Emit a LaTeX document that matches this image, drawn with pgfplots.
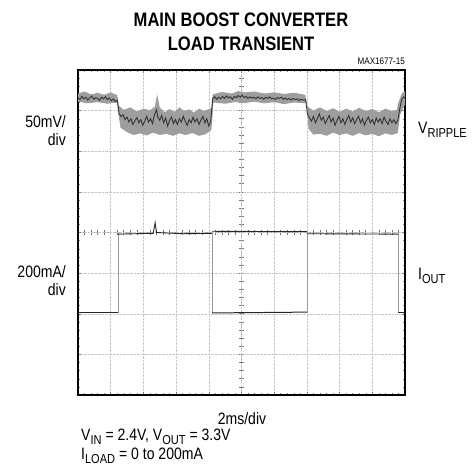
\documentclass[border=0pt]{standalone}
\usepackage{pgfplots}
\pgfplotsset{compat=1.18}
\usepackage{fontspec}
\setmainfont{Liberation Sans}[FakeStretch=0.85]

\newcommand{\lbl}{\fontsize{16.5bp}{18bp}\selectfont}
\newcommand{\sub}[1]{\raisebox{-0.22em}{\fontsize{13bp}{13bp}\selectfont #1}}

\begin{document}
\begin{tikzpicture}
\useasboundingbox (0,0) rectangle (475bp,472bp);

% titles (y measured from the bottom: 472 - pixel row)
\node[font=\fontsize{19.5bp}{22bp}\selectfont\bfseries] at (241bp,452bp) {MAIN BOOST CONVERTER};
\node[font=\fontsize{19.5bp}{22bp}\selectfont\bfseries] at (241bp,428bp) {LOAD TRANSIENT};
\node[font=\fontsize{9.5bp}{10bp}\selectfont, anchor=east, inner sep=0pt] at (405bp,411bp) {MAX1677-15};

\pgfplotsset{scope frame/.style={
    at={(78bp,77bp)}, anchor=south west,
    width=327bp, height=325bp, scale only axis,
    ymin=-4, ymax=4,
    xticklabels={}, yticklabels={},
}}

% centre crosshair with 0.2-division marks
\begin{axis}[
    scope frame,
    xmin=-5, xmax=5,
    axis lines=middle,
    axis line style={-, densely dotted, black!35, line width=0.6pt},
    xtick={-5,-4.8,...,5.05}, ytick={-4,-3.8,...,4.05},
    tick align=center, major tick length=5bp,
    tick style={solid, black!55, line width=0.6pt},
]
\end{axis}

\begin{axis}[
    scope frame,
    xmin=0, xmax=10,
    xtick={0,...,10}, ytick={-4,...,4},
    minor x tick num=4, minor y tick num=4,
    tick align=inside,
    major tick length=3bp, minor tick length=2bp,
    tick style={black!50, line width=0.5pt},
    grid=major,
    major grid style={densely dotted, black!22, line width=0.5pt},
    axis line style={line width=1.8pt},
]
% V ripple: noise envelope
\addplot[fill=black!38, draw=none] coordinates {
 (0,3.42)(0.2,3.47)(0.4,3.40)(0.6,3.44)(0.8,3.39)(1.0,3.45)(1.2,3.38)(1.25,3.12)(1.4,3.02)
 (1.6,3.08)(1.8,2.98)(2.0,3.05)(2.2,3.01)(2.35,3.10)(2.42,3.40)(2.5,3.08)(2.65,2.96)
 (2.8,3.04)(2.95,2.97)(3.1,3.08)(3.25,2.99)(3.4,3.03)(3.55,2.95)(3.7,3.05)(3.85,2.99)
 (4.0,3.04)(4.08,3.06)(4.12,3.40)(4.4,3.46)(4.7,3.42)(4.9,3.48)(5.1,3.45)(5.4,3.47)
 (5.7,3.42)(6.0,3.45)(6.3,3.41)(6.6,3.44)(6.95,3.39)(7.02,3.10)(7.2,3.00)(7.4,3.08)
 (7.6,2.99)(7.8,3.06)(8.0,2.97)(8.2,3.05)(8.4,2.98)(8.6,3.07)(8.8,2.99)(9.0,3.04)
 (9.2,2.96)(9.4,3.05)(9.6,2.99)(9.75,3.02)(9.8,3.20)(9.9,3.42)(10,3.48)
 (10,3.15)(9.85,2.90)(9.78,2.45)(9.6,2.40)(9.4,2.44)(9.2,2.37)(9.0,2.43)(8.8,2.39)
 (8.6,2.45)(8.4,2.38)(8.2,2.44)(8.0,2.40)(7.8,2.46)(7.6,2.38)(7.4,2.43)(7.2,2.41)
 (7.05,2.55)(7.0,3.18)(6.6,3.20)(6.3,3.16)(6.0,3.21)(5.7,3.18)(5.4,3.22)(5.1,3.19)
 (4.8,3.21)(4.5,3.17)(4.14,3.20)(4.08,2.52)(3.9,2.42)(3.7,2.38)(3.5,2.45)(3.3,2.40)
 (3.1,2.44)(2.9,2.38)(2.7,2.43)(2.5,2.40)(2.3,2.46)(2.1,2.39)(1.9,2.44)(1.7,2.40)
 (1.5,2.47)(1.3,2.58)(1.22,3.00)(1.2,3.20)(0.9,3.17)(0.6,3.21)(0.3,3.18)(0,3.22)
} -- cycle;

% V ripple: dark core trace
\addplot[black!80, line width=0.9pt] coordinates {
 (0,3.32)(0.06,3.27)(0.12,3.35)(0.18,3.29)(0.24,3.33)(0.30,3.26)(0.36,3.31)(0.42,3.36)
 (0.48,3.28)(0.54,3.32)(0.60,3.30)(0.66,3.25)(0.72,3.33)(0.78,3.29)(0.84,3.34)(0.90,3.27)
 (0.96,3.31)(1.02,3.24)(1.08,3.29)(1.14,3.22)(1.20,3.26)
 (1.26,2.92)(1.32,2.85)(1.38,2.90)(1.44,2.78)(1.50,2.84)(1.56,2.72)(1.62,2.80)(1.68,2.66)
 (1.74,2.75)(1.80,2.83)(1.86,2.70)(1.92,2.78)(1.98,2.64)(2.04,2.74)(2.10,2.86)(2.16,2.72)
 (2.22,2.80)(2.28,2.68)(2.34,2.90)(2.40,3.02)(2.44,2.85)(2.50,2.76)(2.56,2.88)(2.62,2.70)
 (2.68,2.82)(2.74,2.62)(2.80,2.76)(2.86,2.84)(2.92,2.68)(2.98,2.78)(3.04,2.66)(3.10,2.80)
 (3.16,2.72)(3.22,2.86)(3.28,2.74)(3.34,2.64)(3.40,2.78)(3.46,2.70)(3.52,2.84)(3.58,2.72)
 (3.64,2.80)(3.70,2.66)(3.76,2.77)(3.82,2.86)(3.88,2.70)(3.94,2.80)(4.00,2.62)(4.06,2.74)
 (4.12,3.30)(4.18,3.34)(4.24,3.28)(4.30,3.33)(4.36,3.29)(4.42,3.35)(4.48,3.30)(4.54,3.36)
 (4.60,3.31)(4.66,3.34)(4.72,3.28)(4.78,3.35)(4.84,3.32)(4.90,3.37)(4.96,3.33)(5.02,3.38)
 (5.08,3.32)(5.14,3.35)(5.20,3.30)(5.26,3.34)(5.32,3.31)(5.38,3.33)(5.44,3.29)(5.50,3.34)
 (5.56,3.30)(5.62,3.32)(5.68,3.28)(5.74,3.33)(5.80,3.30)(5.86,3.34)(5.92,3.29)(5.98,3.31)
 (6.04,3.27)(6.10,3.32)(6.16,3.30)(6.22,3.33)(6.28,3.28)(6.34,3.31)(6.40,3.27)(6.46,3.30)
 (6.52,3.26)(6.58,3.30)(6.64,3.27)(6.70,3.29)(6.76,3.25)(6.82,3.28)(6.88,3.26)(6.96,3.27)
 (7.02,2.90)(7.08,2.82)(7.14,2.74)(7.20,2.86)(7.26,2.70)(7.32,2.80)(7.38,2.92)(7.44,2.76)
 (7.50,2.84)(7.56,2.68)(7.62,2.78)(7.68,2.88)(7.74,2.72)(7.80,2.82)(7.86,2.64)(7.92,2.76)
 (7.98,2.86)(8.04,2.70)(8.10,2.80)(8.16,2.66)(8.22,2.78)(8.28,2.88)(8.34,2.72)(8.40,2.82)
 (8.46,2.68)(8.52,2.78)(8.58,2.86)(8.64,2.70)(8.70,2.80)(8.76,2.64)(8.82,2.76)(8.88,2.84)
 (8.94,2.70)(9.00,2.78)(9.06,2.66)(9.12,2.82)(9.18,2.72)(9.24,2.80)(9.30,2.68)(9.36,2.84)
 (9.42,2.74)(9.48,2.66)(9.54,2.80)(9.60,2.70)(9.66,2.78)(9.72,2.68)(9.78,2.76)
 (9.84,3.05)(9.90,3.28)(9.96,3.34)(10,3.31)
};

% I out: vertical edges (faint) and flat levels (dark)
\addplot[black!40, line width=0.6pt] coordinates {(1.22,-1.98) (1.22,0)};
\addplot[black!40, line width=0.6pt] coordinates {(4.10,0) (4.10,-1.98)};
\addplot[black!40, line width=0.6pt] coordinates {(7.00,-1.98) (7.00,0)};
\addplot[black!40, line width=0.6pt] coordinates {(9.79,0) (9.79,-1.98)};
\addplot[black!85, line width=1pt] coordinates {(0,-1.98) (1.22,-1.98)};
\addplot[black!85, line width=0.9pt] coordinates {(1.22,-0.04) (2.30,-0.02) (2.36,0.24) (2.40,0.0) (3.2,-0.03) (4.10,-0.02)};
\addplot[black!85, line width=0.9pt] coordinates {(4.10,0.03) (7.00,0.02)};
\addplot[black!85, line width=1pt] coordinates {(4.10,-1.98) (7.00,-1.96)};
\addplot[black!85, line width=0.9pt] coordinates {(7.00,-0.03) (9.79,-0.04)};
\addplot[black!85, line width=0.9pt] coordinates {(9.79,-1.98) (10,-1.98)};
\end{axis}

% side labels
\node[font=\lbl, align=right, anchor=east, inner sep=0pt] at (66bp,341bp) {50mV/\\div};
\node[font=\lbl, align=right, anchor=east, inner sep=0pt] at (66bp,191bp) {200mA/\\div};
\node[font=\lbl, anchor=west, inner sep=0pt] at (418bp,342bp) {V\sub{RIPPLE}};
\node[font=\lbl, anchor=west, inner sep=0pt] at (418bp,196bp) {I\sub{OUT}};

% bottom text
\node[font=\lbl, inner sep=0pt] at (242bp,53bp) {2ms/div};
\node[font=\lbl, anchor=west, inner sep=0pt] at (81bp,35bp) {V\sub{IN} = 2.4V, V\sub{OUT} = 3.3V};
\node[font=\lbl, anchor=west, inner sep=0pt] at (81bp,16bp) {I\sub{LOAD} = 0 to 200mA};
\end{tikzpicture}
\end{document}
